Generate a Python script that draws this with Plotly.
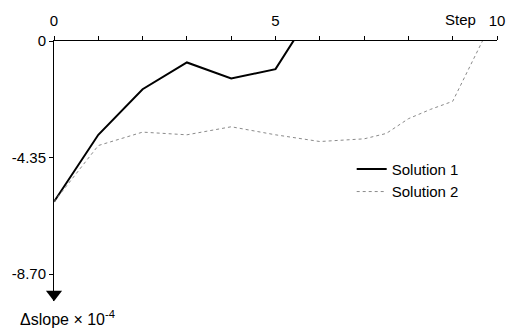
import plotly.graph_objects as go

steps1 = [0, 1, 2, 3, 4, 5, 6]
solution1 = [-6.0, -3.5, -1.8, -0.8, -1.4, -1.05, 1.55]
steps2 = [0, 1, 2, 3, 4, 5, 6, 7, 7.5, 8, 8.5, 9, 10]
solution2 = [-6.0, -3.9, -3.4, -3.5, -3.2, -3.5, -3.75, -3.65, -3.45, -2.9, -2.55, -2.25, 1.1]
xtick_vals = [0, 5, 10]
xtick_text = ["0", "5", "10"]
ytick_vals = [0, -4.35, -8.70]
ytick_text = ["0", "-4.35", "-8.70"]

font = dict(family="Liberation Sans, Arial, sans-serif", size=15, color="black")

fig = go.Figure()
fig.add_trace(go.Scatter(x=steps1, y=solution1, mode="lines", name="Solution 1",
                         line=dict(color="black", width=2)))
fig.add_trace(go.Scatter(x=steps2, y=solution2, mode="lines", name="Solution 2",
                         line=dict(color="#8a8a8a", width=1, dash="dot")))
# arrow head at bottom of y axis
fig.add_trace(go.Scatter(x=[0], y=[-9.45], mode="markers", showlegend=False,
                         marker=dict(symbol="triangle-down", size=14, color="black"),
                         hoverinfo="skip", cliponaxis=False))

fig.update_layout(
    width=517, height=332,
    margin=dict(l=53, r=15, t=39, b=31),
    paper_bgcolor="white", plot_bgcolor="white",
    font=font,
    showlegend=True,
    legend=dict(x=0.672, y=0.57, xanchor="left", yanchor="top",
                bgcolor="rgba(0,0,0,0)", font=dict(size=15),
                tracegroupgap=0),
    xaxis=dict(side="top", range=[0, 10], showgrid=False, zeroline=False,
               showline=True, linecolor="black", linewidth=1,
               ticks="outside", ticklen=4, tickcolor="black",
               tickvals=xtick_vals, ticktext=xtick_text, tickfont=dict(size=15),
               ticklabelstandoff=4,
               minor=dict(ticks="outside", dtick=1, ticklen=4, tickcolor="black", showgrid=False)),
    yaxis=dict(range=[-9.7, 0], showgrid=False, zeroline=False,
               showline=True, linecolor="black", linewidth=1,
               ticks="outside", ticklen=4, tickcolor="black",
               tickvals=ytick_vals, ticktext=ytick_text, tickfont=dict(size=15)),
    annotations=[
        dict(text="Step", xref="paper", yref="paper", x=0.918, y=1.084,
             xanchor="center", yanchor="middle",
             showarrow=False, font=dict(size=15)),
        dict(text="Δslope × 10<sup>-4</sup>", xref="paper", yref="paper",
             x=-0.082, y=-0.065, xanchor="left", yanchor="middle",
             showarrow=False, font=dict(size=16)),
    ],
)

fig.write_html("out.html", config={"displayModeBar": False},
               post_script="document.body.style.margin='0';")
